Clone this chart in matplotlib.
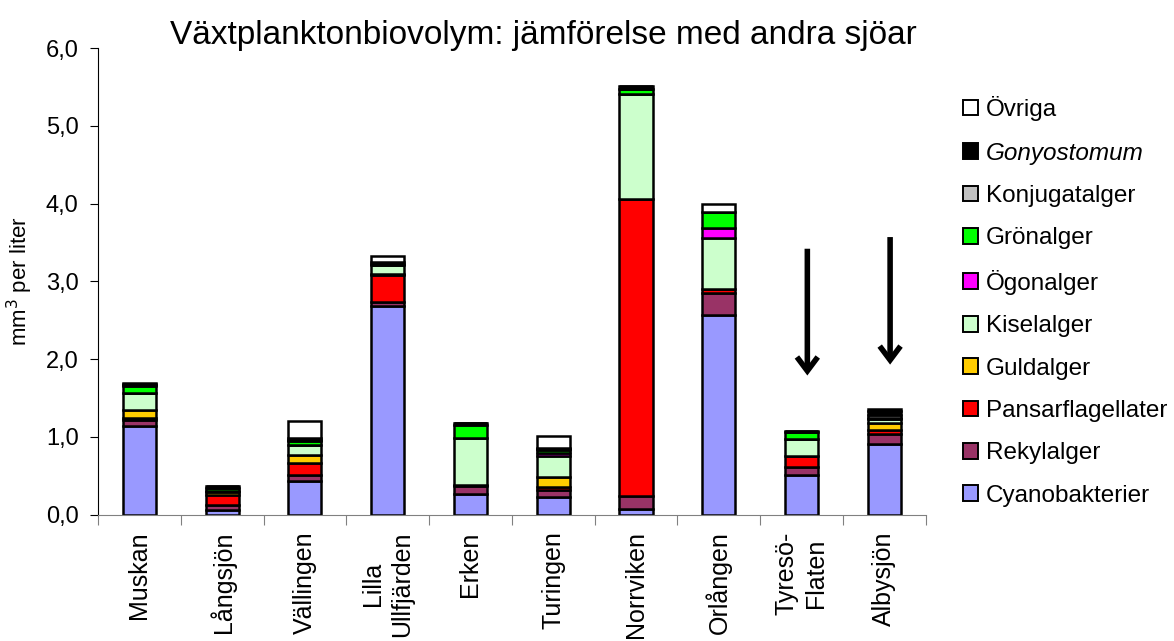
import matplotlib
matplotlib.use("Agg")
import matplotlib.pyplot as plt
from matplotlib.patches import Patch
import numpy as np

plt.rcParams["font.family"] = ["Liberation Sans", "DejaVu Sans"]

lakes = ["Muskan", "Långsjön", "Vällingen", "Lilla\nUllfjärden", "Erken", "Turingen",
         "Norrviken", "Orlången", "Tyresö-\nFlaten", "Albysjön"]

# biovolym, mm3 per liter
cyano  = [1.14, 0.06, 0.43, 2.68, 0.27, 0.23, 0.07, 2.57, 0.51, 0.91]
rekyl  = [0.08, 0.07, 0.08, 0.06, 0.10, 0.09, 0.17, 0.28, 0.11, 0.13]
pansar = [0.02, 0.13, 0.16, 0.34, 0.01, 0.04, 3.82, 0.05, 0.13, 0.05]
guld   = [0.11, 0.03, 0.10, 0.02, 0.00, 0.13, 0.00, 0.00, 0.01, 0.09]
kisel  = [0.21, 0.02, 0.13, 0.11, 0.61, 0.27, 1.35, 0.66, 0.22, 0.05]
ogon   = [0.00, 0.00, 0.00, 0.00, 0.00, 0.04, 0.00, 0.13, 0.00, 0.00]
gron   = [0.10, 0.03, 0.05, 0.01, 0.16, 0.03, 0.06, 0.20, 0.08, 0.02]
konjug = [0.01, 0.00, 0.01, 0.01, 0.03, 0.01, 0.01, 0.00, 0.01, 0.03]
gony   = [0.01, 0.03, 0.03, 0.02, 0.00, 0.02, 0.03, 0.00, 0.01, 0.06]
ovriga = [0.02, 0.00, 0.21, 0.08, 0.00, 0.15, 0.00, 0.10, 0.00, 0.02]

groups = [
    ("Cyanobakterier", cyano, "#9999FF"),
    ("Rekylalger", rekyl, "#993366"),
    ("Pansarflagellater", pansar, "#FF0000"),
    ("Guldalger", guld, "#FFCC00"),
    ("Kiselalger", kisel, "#CCFFCC"),
    ("Ögonalger", ogon, "#FF00FF"),
    ("Grönalger", gron, "#00FF00"),
    ("Konjugatalger", konjug, "#C0C0C0"),
    ("Gonyostomum", gony, "#000000"),
    ("Övriga", ovriga, "#FFFFFF"),
]

# arrows pointing at the marked lakes (tail / tip in mm3 per liter)
marked = [8, 9]
arrow_tail = [3.42, 3.57]
arrow_tip = [1.79, 1.93]

fig = plt.figure(figsize=(11.74, 6.41), dpi=100)
ax = fig.add_axes([0.0835, 0.197, 0.705, 0.728])

x = np.arange(len(lakes))
bottom = np.zeros(len(lakes))
for name, vals, col in groups:
    v = np.array(vals)
    ax.bar(x, v, 0.4, bottom=bottom, color=col, edgecolor="black", linewidth=1.8,
           label=name, zorder=2)
    bottom += v

for i, y0, y1 in zip(marked, arrow_tail, arrow_tip):
    ax.annotate("", xy=(i + 0.07, y1), xytext=(i + 0.07, y0),
                arrowprops=dict(arrowstyle="->,head_width=0.75,head_length=1.0",
                                color="black", lw=4, shrinkA=0, shrinkB=0,
                                capstyle="butt", joinstyle="miter"))

ax.set_xlim(-0.5, len(lakes) - 0.5)
ax.set_ylim(0, 6)
yt = np.arange(0, 6.1, 1.0)
ax.set_yticks(yt)
ax.set_yticklabels([f"{t:.1f}".replace(".", ",") for t in yt], fontsize=17)
ax.set_ylabel("mm$^3$ per liter", fontsize=16, labelpad=8)

ax.set_xticks(np.arange(-0.5, len(lakes)))
ax.set_xticklabels([])
ax.set_xticks(x, minor=True)
ax.set_xticklabels(lakes, minor=True, rotation=90, fontsize=18, linespacing=1.3,
                   multialignment="center")
ax.tick_params(axis="x", which="minor", length=0, pad=12)
ax.tick_params(axis="x", which="major", length=7, direction="out", color="gray")
ax.tick_params(axis="y", length=6, direction="out", pad=8)

for s in ["top", "right"]:
    ax.spines[s].set_visible(False)
ax.spines["bottom"].set_color("gray")

fig.text(0.4625, 0.932, "Växtplanktonbiovolym: jämförelse med andra sjöar",
         fontsize=24, ha="center", va="baseline")

handles = [Patch(facecolor=col, edgecolor="black", linewidth=1.4, label=name)
           for name, _, col in groups][::-1]
leg = fig.legend(handles=handles, loc="upper left", bbox_to_anchor=(0.82, 0.85),
                 frameon=False, fontsize=17.5, handlelength=0.62, handleheight=0.62,
                 handletextpad=0.33, labelspacing=0.84, borderpad=0, borderaxespad=0)
for t in leg.get_texts():
    if t.get_text() == "Gonyostomum":
        t.set_style("italic")

fig.savefig("out.png", dpi=100)
